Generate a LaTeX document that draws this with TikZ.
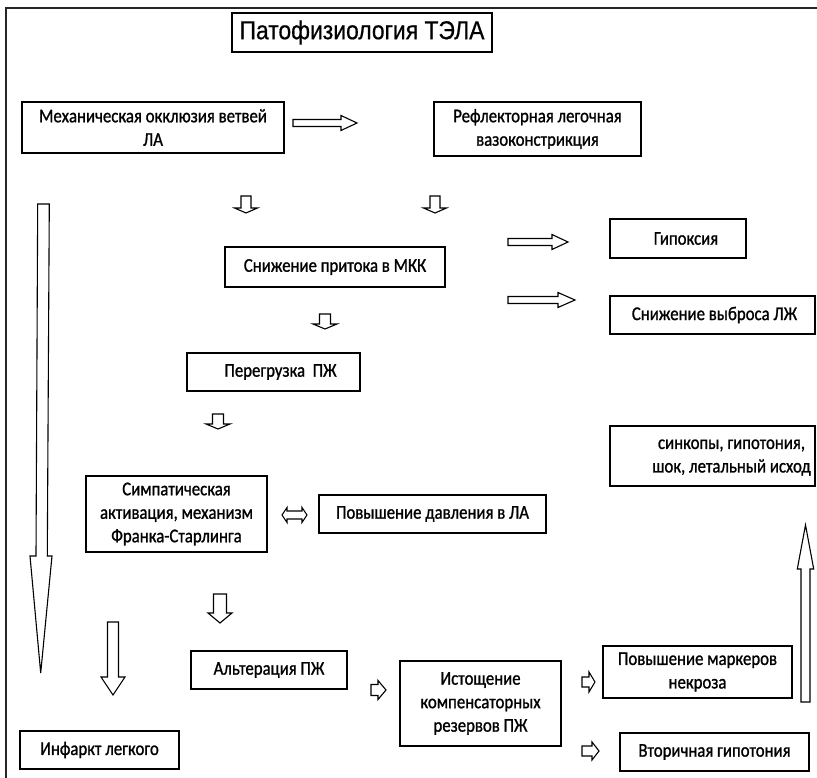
\documentclass[tikz,border=0pt]{standalone}
\usepackage{fontspec}
\setmainfont{Carlito}[FakeStretch=0.86, FakeBold=1.1]
\newfontfamily\titlefont{Liberation Sans}[FakeStretch=0.88, FakeBold=0.6]
\newcommand\boxfont{\fontsize{19.5}{23.5}\selectfont}

% box from its corners: name, x1, y1, x2, y2, text
\newcommand\bx[6]{%
  \node[box, minimum width={(#4)-(#2)}, minimum height={(#5)-(#3)}]
    (#1) at ({((#2)+(#4))/2},{((#3)+(#5))/2}) {#6};}

% block arrow: tail x, tail y, rotation, length, shaft half width, head half width, head length
\newcommand\blk[7]{%
  \draw[blockarrow, shift={(#1,#2)}, rotate=#3]
    (0,-#5) -- ({#4-#7},-#5) -- ({#4-#7},-#6) -- (#4,0) --
    ({#4-#7},#6) -- ({#4-#7},#5) -- (0,#5) -- cycle;}

\begin{document}
\begin{tikzpicture}[x=1pt,y=-1pt,
  box/.style={draw, line width=1.3pt, inner sep=0pt, align=center, font=\boxfont},
  blockarrow/.style={draw, line width=1.1pt, fill=white, line join=miter},
  frame/.style={draw, line width=1.6pt, black!85}]
\useasboundingbox (0,0) rectangle (817,778);

% outer frame (top and left edges)
\draw[frame] (6,778) -- (6,8) -- (817,8);

% heading
\node[draw, line width=1.3pt, minimum width=260, minimum height=39, inner sep=0pt,
      font=\titlefont\fontsize{26}{30}\selectfont] (title) at (362,32.5) {Патофизиология ТЭЛА};

% boxes
\bx{mex}{22}{102}{284}{153}{Механическая окклюзия ветвей\\ЛА}
\bx{refl}{434}{102}{641}{156}{Рефлекторная легочная\\вазоконстрикция}
\bx{snizh}{225}{247}{445}{287}{Снижение притока в МКК}
\bx{gip}{610}{219}{746}{258}{\hspace*{16pt}Гипоксия}
\bx{vybr}{610}{296}{815}{334}{\hspace*{4pt}Снижение выброса ЛЖ}
\bx{pereg}{187}{353}{360}{391}{\hspace*{14pt}Перегрузка~ ПЖ}
\bx{sink}{610}{426}{815}{486}{\hspace*{38pt}\begin{tabular}{@{}c@{}}синкопы, гипотония,\\шок, летальный исход\end{tabular}}
\bx{simp}{86}{476}{267}{552}{Симпатическая\\активация, механизм\\Франка-Старлинга}
\bx{davl}{319}{495}{546}{533}{Повышение давления в ЛА}
\bx{alter}{191}{651}{347}{689}{Альтерация ПЖ}
\bx{istosh}{400}{661}{561}{746}{Истощение\\компенсаторных\\резервов ПЖ}
\bx{mark}{603}{646}{792}{698}{Повышение маркеров\\некроза}
\bx{vtor}{620}{733}{809}{771}{Вторичная гипотония}
\bx{infarkt}{20}{731}{179}{769}{Инфаркт легкого}

% block arrows between the boxes
\blk{293}{123}{0}{64}{3.5}{7.5}{16}
\blk{246}{196}{-90}{17}{5}{11.5}{5}
\blk{435}{196}{-90}{17}{5}{11.5}{5}
\blk{508}{242}{0}{60}{3.5}{7.5}{16}
\blk{508}{300}{0}{67}{3.5}{7.5}{17}
\blk{325}{314}{-90}{15}{5.5}{12}{5}
\blk{218}{414}{-90}{15}{5.5}{12}{5}
\blk{220}{594}{-90}{29}{6.5}{12}{10}
\blk{113}{622}{-90}{73}{5.5}{12}{18}
\blk{371}{690}{0}{15}{5.5}{9.5}{8}
\blk{582}{682}{0}{13}{5}{10}{6}
\blk{582}{751}{0}{17}{5}{9}{7}
\blk{805.5}{702}{90}{177}{4.5}{8.2}{44}

% two-headed arrow
\draw[blockarrow] (282,515) -- (287,507.5) -- (287,511) -- (302,511) -- (302,507.5) --
  (307,515) -- (302,522.5) -- (302,519) -- (287,519) -- (287,522.5) -- cycle;

% long arrow along the left side
\draw[blockarrow] (37.7,204) -- (49.3,204) -- (47.3,556) -- (52,556) -- (40.7,673) --
  (30,556) -- (36,556) -- cycle;
\end{tikzpicture}
\end{document}
